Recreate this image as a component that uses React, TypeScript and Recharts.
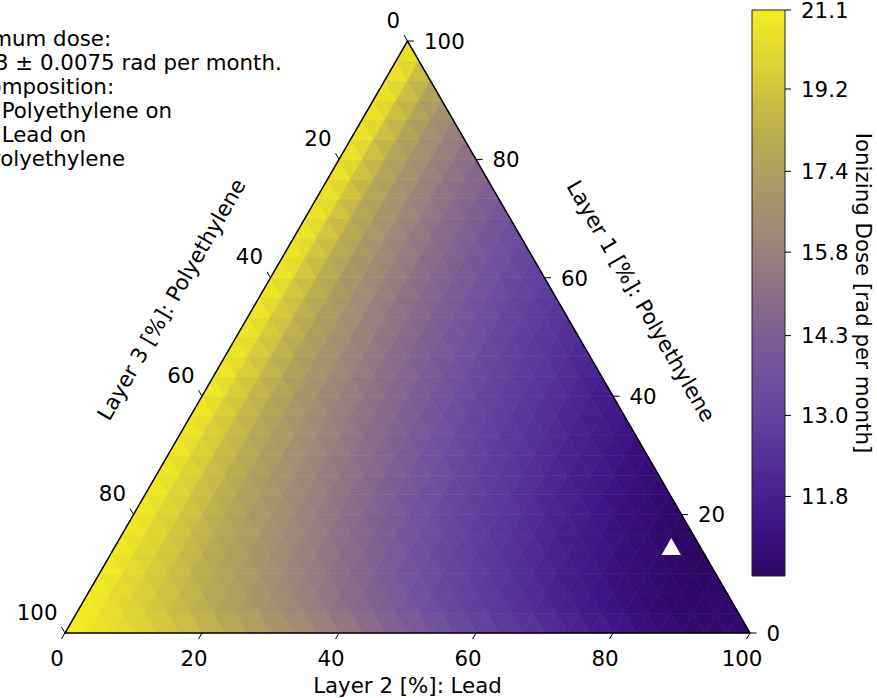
import React from 'react';
import * as R from 'recharts';

const { ComposedChart, XAxis, YAxis, Scatter, Customized, ReferenceArea } = R as any;

// ---------------- data ----------------
// Ionizing dose [rad per month] on a ternary lattice (30 steps per side).
// Row k has Layer 1 = k/30 of 100 %; its entries run over Lead = 0, 1/30, 2/30 ... of 100 %.
const DOSE_R00 = [21.1, 20.77, 20.4, 20.0, 19.6, 19.2, 18.8, 18.27, 17.77, 17.3, 16.77, 16.27, 15.8, 15.33, 14.9, 14.5, 14.03, 13.6, 13.2, 12.93, 12.67, 12.4, 12.13, 11.87, 11.6, 11.37, 11.15, 10.95, 10.92, 10.94, 10.98];
const DOSE_R01 = [21.1, 20.54, 19.97, 19.47, 19.0, 18.49, 17.93, 17.45, 16.92, 16.39, 15.92, 15.45, 15.0, 14.6, 14.15, 13.7, 13.3, 13.0, 12.73, 12.47, 12.2, 11.93, 11.67, 11.42, 11.2, 11.0, 10.87, 10.84, 10.88, 10.93];
const DOSE_R02 = [21.1, 20.42, 19.79, 19.25, 18.74, 18.13, 17.61, 17.09, 16.54, 16.06, 15.59, 15.12, 14.71, 14.28, 13.81, 13.41, 13.07, 12.81, 12.54, 12.27, 12.01, 11.74, 11.49, 11.25, 11.05, 10.9, 10.8, 10.79, 10.85];
const DOSE_R03 = [21.1, 20.34, 19.65, 19.08, 18.49, 17.88, 17.36, 16.81, 16.28, 15.8, 15.33, 14.89, 14.48, 14.02, 13.59, 13.19, 12.92, 12.66, 12.39, 12.12, 11.86, 11.59, 11.36, 11.14, 10.95, 10.85, 10.78, 10.79];
const DOSE_R04 = [21.1, 20.27, 19.54, 18.93, 18.28, 17.68, 17.14, 16.57, 16.07, 15.59, 15.11, 14.71, 14.26, 13.8, 13.4, 13.07, 12.8, 12.53, 12.27, 12.0, 11.73, 11.48, 11.25, 11.05, 10.9, 10.77, 10.77];
const DOSE_R05 = [21.1, 20.21, 19.44, 18.81, 18.09, 17.51, 16.93, 16.37, 15.88, 15.4, 14.95, 14.54, 14.07, 13.63, 13.23, 12.96, 12.69, 12.42, 12.16, 11.89, 11.62, 11.39, 11.17, 10.97, 10.8, 10.75];
const DOSE_R06 = [21.1, 20.15, 19.34, 18.66, 17.93, 17.35, 16.74, 16.2, 15.71, 15.22, 14.8, 14.37, 13.9, 13.48, 13.12, 12.86, 12.59, 12.32, 12.06, 11.79, 11.53, 11.3, 11.09, 10.92, 10.8];
const DOSE_R07 = [21.1, 20.1, 19.26, 18.52, 17.79, 17.19, 16.57, 16.05, 15.55, 15.07, 14.66, 14.21, 13.74, 13.35, 13.03, 12.76, 12.5, 12.23, 11.96, 11.7, 11.45, 11.22, 11.02, 10.89];
const DOSE_R08 = [21.1, 20.05, 19.18, 18.39, 17.67, 17.03, 16.42, 15.9, 15.4, 14.95, 14.54, 14.07, 13.62, 13.22, 12.95, 12.68, 12.41, 12.15, 11.88, 11.61, 11.38, 11.16, 10.96];
const DOSE_R09 = [21.1, 20.0, 19.11, 18.27, 17.55, 16.89, 16.29, 15.77, 15.27, 14.83, 14.4, 13.92, 13.5, 13.13, 12.86, 12.6, 12.33, 12.06, 11.8, 11.54, 11.31, 11.1];
const DOSE_R10 = [21.1, 19.96, 19.04, 18.15, 17.43, 16.75, 16.16, 15.64, 15.14, 14.71, 14.27, 13.8, 13.38, 13.06, 12.79, 12.52, 12.26, 11.99, 11.72, 11.47, 11.24];
const DOSE_R11 = [21.1, 19.92, 18.97, 18.04, 17.33, 16.62, 16.04, 15.52, 15.03, 14.61, 14.14, 13.69, 13.27, 12.98, 12.72, 12.45, 12.18, 11.92, 11.65, 11.41];
const DOSE_R12 = [21.1, 19.88, 18.91, 17.95, 17.21, 16.49, 15.93, 15.4, 14.92, 14.5, 14.03, 13.58, 13.18, 12.91, 12.65, 12.38, 12.11, 11.85, 11.58];
const DOSE_R13 = [21.1, 19.84, 18.85, 17.86, 17.1, 16.39, 15.82, 15.29, 14.83, 14.39, 13.91, 13.49, 13.12, 12.85, 12.58, 12.32, 12.05, 11.78];
const DOSE_R14 = [21.1, 19.81, 18.79, 17.77, 16.99, 16.29, 15.71, 15.18, 14.73, 14.28, 13.8, 13.39, 13.05, 12.78, 12.52, 12.25, 11.98];
const DOSE_R15 = [21.1, 19.77, 18.71, 17.69, 16.89, 16.19, 15.61, 15.08, 14.64, 14.18, 13.71, 13.3, 12.99, 12.72, 12.46, 12.19];
const DOSE_R16 = [21.1, 19.74, 18.64, 17.61, 16.78, 16.1, 15.51, 15.0, 14.56, 14.07, 13.62, 13.21, 12.93, 12.66, 12.4];
const DOSE_R17 = [21.1, 19.7, 18.57, 17.54, 16.69, 16.0, 15.42, 14.91, 14.47, 13.97, 13.54, 13.15, 12.87, 12.61];
const DOSE_R18 = [21.1, 19.67, 18.5, 17.46, 16.59, 15.92, 15.33, 14.83, 14.37, 13.88, 13.45, 13.09, 12.82];
const DOSE_R19 = [21.1, 19.64, 18.43, 17.39, 16.5, 15.83, 15.24, 14.76, 14.28, 13.79, 13.37, 13.04];
const DOSE_R20 = [21.1, 19.61, 18.37, 17.32, 16.42, 15.74, 15.15, 14.68, 14.19, 13.71, 13.29];
const DOSE_R21 = [21.1, 19.58, 18.3, 17.24, 16.34, 15.66, 15.07, 14.6, 14.1, 13.63];
const DOSE_R22 = [21.1, 19.55, 18.24, 17.17, 16.27, 15.58, 15.0, 14.53, 14.01];
const DOSE_R23 = [21.1, 19.53, 18.18, 17.09, 16.2, 15.5, 14.93, 14.45];
const DOSE_R24 = [21.1, 19.5, 18.12, 17.02, 16.12, 15.43, 14.86];
const DOSE_R25 = [21.1, 19.47, 18.06, 16.95, 16.05, 15.35];
const DOSE_R26 = [21.1, 19.45, 18.01, 16.88, 15.98];
const DOSE_R27 = [21.1, 19.42, 17.96, 16.81];
const DOSE_R28 = [21.1, 19.4, 17.91];
const DOSE_R29 = [21.1, 19.37];
const DOSE_R30 = [21.1];

const DOSE_ROWS = [
  DOSE_R00, DOSE_R01, DOSE_R02, DOSE_R03, DOSE_R04, DOSE_R05, DOSE_R06, DOSE_R07, DOSE_R08, DOSE_R09,
  DOSE_R10, DOSE_R11, DOSE_R12, DOSE_R13, DOSE_R14, DOSE_R15, DOSE_R16, DOSE_R17, DOSE_R18, DOSE_R19,
  DOSE_R20, DOSE_R21, DOSE_R22, DOSE_R23, DOSE_R24, DOSE_R25, DOSE_R26, DOSE_R27, DOSE_R28, DOSE_R29,
  DOSE_R30,
];
const LATTICE_STEP = 100 / 30;

const DOSE_MIN = 10.73;
const DOSE_MAX = 21.1;
const DOSE_ERR = 0.0075;
const COLORBAR_TICKS = [11.8, 13.0, 14.3, 15.8, 17.4, 19.2, 21.1];
const AXIS_TICKS = [0, 20, 40, 60, 80, 100];

// optimum composition (percent)
const MIN_POINT = { layer1: 14.6, lead: 81.2, layer3: 4.2 };

const TITLE_BOTTOM = 'Layer 2 [%]: Lead';
const TITLE_RIGHT = 'Layer 1 [%]: Polyethylene';
const TITLE_LEFT = 'Layer 3 [%]: Polyethylene';
const COLORBAR_TITLE = 'Ionizing Dose [rad per month]';

// colormap stops (position along bar, colour)
const CMAP_POS = [0, 0.07, 0.14, 0.21, 0.28, 0.35, 0.42, 0.49, 0.56, 0.63, 0.7, 0.77, 0.84, 0.91, 1];
const CMAP_COL = ['#2d0764', '#3a1080', '#47208e', '#553298', '#62429e', '#6f509e', '#7c5e96', '#8a6c8a',
  '#977c7e', '#a28c72', '#ac9c62', '#b8ac52', '#ccbe42', '#e0d432', '#f5ee20'];

// ---------------- helpers ----------------
const FONT = 'DejaVu Sans, sans-serif';
const FS = 21.33;
const SQ3_2 = Math.sqrt(3) / 2;
const Y_MAX = 100 * SQ3_2;
const W = 877;
const H = 698;
const MARGIN = { top: 41, right: 127, bottom: 65, left: 65 };

const toXY = (layer1: number, lead: number) => ({ x: lead + layer1 / 2, y: layer1 * SQ3_2 });

const hexRgb = (h: string) => [1, 3, 5].map((i) => parseInt(h.slice(i, i + 2), 16));
const cmap = (t: number) => {
  const u = Math.max(0, Math.min(1, t));
  let k = 0;
  while (k < CMAP_POS.length - 2 && u > CMAP_POS[k + 1]) k++;
  const f = (u - CMAP_POS[k]) / (CMAP_POS[k + 1] - CMAP_POS[k]);
  const a = hexRgb(CMAP_COL[k]);
  const b = hexRgb(CMAP_COL[k + 1]);
  const c = a.map((v, i) => Math.round(v + (b[i] - v) * f));
  return `rgb(${c[0]},${c[1]},${c[2]})`;
};
const lognorm = (v: number) => Math.log(v / DOSE_MIN) / Math.log(DOSE_MAX / DOSE_MIN);

type Cell = { pts: { x: number; y: number }[]; value: number };
const CELLS: Cell[] = (() => {
  const n = DOSE_ROWS.length - 1;
  const out: Cell[] = [];
  const P = (i: number, j: number) => toXY(i * LATTICE_STEP, j * LATTICE_STEP);
  for (let i = 0; i < n; i++) {
    for (let j = 0; j <= n - 1 - i; j++) {
      out.push({
        pts: [P(i, j), P(i, j + 1), P(i + 1, j)],
        value: (DOSE_ROWS[i][j] + DOSE_ROWS[i][j + 1] + DOSE_ROWS[i + 1][j]) / 3,
      });
      if (j <= n - 2 - i) {
        out.push({
          pts: [P(i, j + 1), P(i + 1, j + 1), P(i + 1, j)],
          value: (DOSE_ROWS[i][j + 1] + DOSE_ROWS[i + 1][j + 1] + DOSE_ROWS[i + 1][j]) / 3,
        });
      }
    }
  }
  return out;
})();

const MARKER_DATA = [toXY(MIN_POINT.layer1, MIN_POINT.lead)];

const ANNOT_LINES = [
  'Minimum dose:',
  `${DOSE_MIN.toFixed(2)} \u00b1 ${DOSE_ERR} rad per month.`,
  'At composition:',
  `${Math.round(MIN_POINT.layer1)}% Polyethylene on`,
  `${Math.round(MIN_POINT.lead)}% Lead on`,
  `${Math.round(MIN_POINT.layer3)}% Polyethylene`,
];

// ---------------- scale access ----------------
const anyR: any = R;
const useXScaleHook = typeof anyR.useXAxisScale === 'function' ? anyR.useXAxisScale : () => undefined;
const useYScaleHook = typeof anyR.useYAxisScale === 'function' ? anyR.useYAxisScale : () => undefined;
const usePlotAreaHook = typeof anyR.usePlotArea === 'function' ? anyR.usePlotArea : () => undefined;
const FALLBACK_AREA = { x: MARGIN.left, y: MARGIN.top, width: W - MARGIN.left - MARGIN.right, height: H - MARGIN.top - MARGIN.bottom };

function useProjector() {
  const xs = useXScaleHook();
  const ys = useYScaleHook();
  const pa = usePlotAreaHook();
  return (x: number, y: number): [number, number] => {
    if (typeof xs === 'function' && typeof ys === 'function') {
      const px = xs(x);
      const py = ys(y);
      if (Number.isFinite(px) && Number.isFinite(py)) return [px, py];
    }
    const a = pa && Number.isFinite(pa.width) ? pa : FALLBACK_AREA;
    return [a.x + (x / 100) * a.width, a.y + a.height * (1 - y / Y_MAX)];
  };
}

const txt = { fontFamily: FONT, fontSize: FS, fill: '#000' } as const;

function TernaryLayer() {
  const proj = useProjector();
  const polys = CELLS.map((c, k) => {
    const d = c.pts.map((p, i) => {
      const [px, py] = proj(p.x, p.y);
      return `${i === 0 ? 'M' : 'L'}${px.toFixed(2)},${py.toFixed(2)}`;
    }).join(' ') + ' Z';
    const col = cmap(lognorm(c.value));
    return <path key={k} d={d} fill={col} stroke={col} strokeWidth={0.6} strokeLinejoin="round" />;
  });

  const L = proj(0, 0);
  const Rr = proj(100, 0);
  const T = proj(50, Y_MAX);

  const ticks: React.ReactNode[] = [];
  AXIS_TICKS.forEach((v) => {
    // bottom: Lead
    const pb = toXY(0, v);
    const [bx, by] = proj(pb.x, pb.y);
    ticks.push(<line key={`bt${v}`} x1={bx} y1={by} x2={bx - 3.5} y2={by + 6} stroke="#000" strokeWidth={1} />);
    ticks.push(<text key={`bl${v}`} x={bx - 8} y={by + 33} textAnchor="middle" style={txt}>{v}</text>);
    // right: Layer 1 (Layer 3 = 0)
    const pr = toXY(v, 100 - v);
    const [rx, ry] = proj(pr.x, pr.y);
    ticks.push(<line key={`rt${v}`} x1={rx} y1={ry} x2={rx + 6.5} y2={ry} stroke="#000" strokeWidth={1} />);
    ticks.push(<text key={`rl${v}`} x={rx + 16.5} y={ry + 7.8} textAnchor="start" style={txt}>{v}</text>);
    // left: Layer 3 (Lead = 0)
    const pl = toXY(100 - v, 0);
    const [lx, ly] = proj(pl.x, pl.y);
    ticks.push(<line key={`lt${v}`} x1={lx} y1={ly} x2={lx - 3.5} y2={ly - 6} stroke="#000" strokeWidth={1} />);
    ticks.push(<text key={`ll${v}`} x={lx - 7.5} y={ly - 13.5} textAnchor="end" style={txt}>{v}</text>);
  });

  const midR = [(Rr[0] + T[0]) / 2 + 0.866 * 72, (Rr[1] + T[1]) / 2 - 0.5 * 72];
  const midL = [(L[0] + T[0]) / 2 - 0.866 * 75, (L[1] + T[1]) / 2 - 0.5 * 75];

  return (
    <g>
      <g>{polys}</g>
      <path d={`M${L[0]},${L[1]} L${Rr[0]},${Rr[1]} L${T[0]},${T[1]} Z`} fill="none" stroke="#000" strokeWidth={1.5} strokeLinejoin="miter" />
      {ticks}
      <text x={(L[0] + Rr[0]) / 2} y={L[1] + 60} textAnchor="middle" style={txt}>{TITLE_BOTTOM}</text>
      <text x={midR[0]} y={midR[1]} textAnchor="middle" dominantBaseline="central" transform={`rotate(60 ${midR[0]} ${midR[1]})`} style={txt}>{TITLE_RIGHT}</text>
      <text x={midL[0]} y={midL[1]} textAnchor="middle" dominantBaseline="central" transform={`rotate(-60 ${midL[0]} ${midL[1]})`} style={txt}>{TITLE_LEFT}</text>
      {ANNOT_LINES.map((s, i) => (
        <text key={`a${i}`} x={-52.5} y={46 + 24 * i} textAnchor="start" style={txt}>{s}</text>
      ))}
    </g>
  );
}

const MarkerShape = (p: any) => {
  const { cx, cy } = p;
  if (!Number.isFinite(cx) || !Number.isFinite(cy)) return null;
  return <path d={`M${cx},${cy - 8.5} L${cx + 9.7},${cy + 8.5} L${cx - 9.7},${cy + 8.5} Z`} fill="#ffffff" />;
};

const CbLabel = (p: any) => {
  const vb = p.viewBox || { x: 785, y: 10, width: 92, height: 566 };
  const x = vb.x + 78;
  const y = vb.y + vb.height / 2;
  return (
    <text x={x} y={y} textAnchor="middle" dominantBaseline="central" transform={`rotate(90 ${x} ${y})`} style={txt}>
      {COLORBAR_TITLE}
    </text>
  );
};

export default function App() {
  return (
    <div style={{ position: 'fixed', left: 0, top: 0, width: W, height: H, background: '#fff', overflow: 'hidden' }}>
      <svg width={0} height={0} style={{ position: 'absolute' }}>
        <defs>
          <linearGradient id="cbarGrad" x1="0" y1="1" x2="0" y2="0">
            {CMAP_POS.map((p, i) => (
              <stop key={i} offset={p} stopColor={CMAP_COL[i]} />
            ))}
          </linearGradient>
        </defs>
      </svg>
      <div style={{ position: 'absolute', left: 0, top: 0 }}>
        <ComposedChart width={W} height={H} margin={MARGIN} data={[]}>
          <XAxis type="number" dataKey="x" domain={[0, 100]} allowDataOverflow hide />
          <YAxis type="number" dataKey="y" domain={[0, Y_MAX]} allowDataOverflow hide />
          <Customized component={TernaryLayer} />
          <Scatter data={MARKER_DATA} dataKey="y" shape={<MarkerShape />} isAnimationActive={false} />
        </ComposedChart>
      </div>
      <div style={{ position: 'absolute', left: 0, top: 0 }}>
        <ComposedChart width={W} height={H} margin={{ top: 10, right: 0, bottom: 122, left: 752 }} data={[]}>
          <XAxis type="number" dataKey="x" domain={[0, 1]} allowDataOverflow hide />
          <YAxis
            type="number"
            orientation="right"
            scale="log"
            domain={[DOSE_MIN, DOSE_MAX]}
            allowDataOverflow
            ticks={COLORBAR_TICKS}
            interval={0}
            tickFormatter={(v: number) => v.toFixed(1)}
            width={92}
            tickSize={6}
            tickMargin={10}
            axisLine={false}
            tickLine={{ stroke: '#000', strokeWidth: 1 }}
            tick={{ fontFamily: FONT, fontSize: FS, fill: '#000' }}
            label={<CbLabel />}
          />
          <ReferenceArea x1={0} x2={1} y1={DOSE_MIN} y2={DOSE_MAX} fill="url(#cbarGrad)" fillOpacity={1} stroke="#222" strokeWidth={1} ifOverflow="visible" />
        </ComposedChart>
      </div>
    </div>
  );
}
